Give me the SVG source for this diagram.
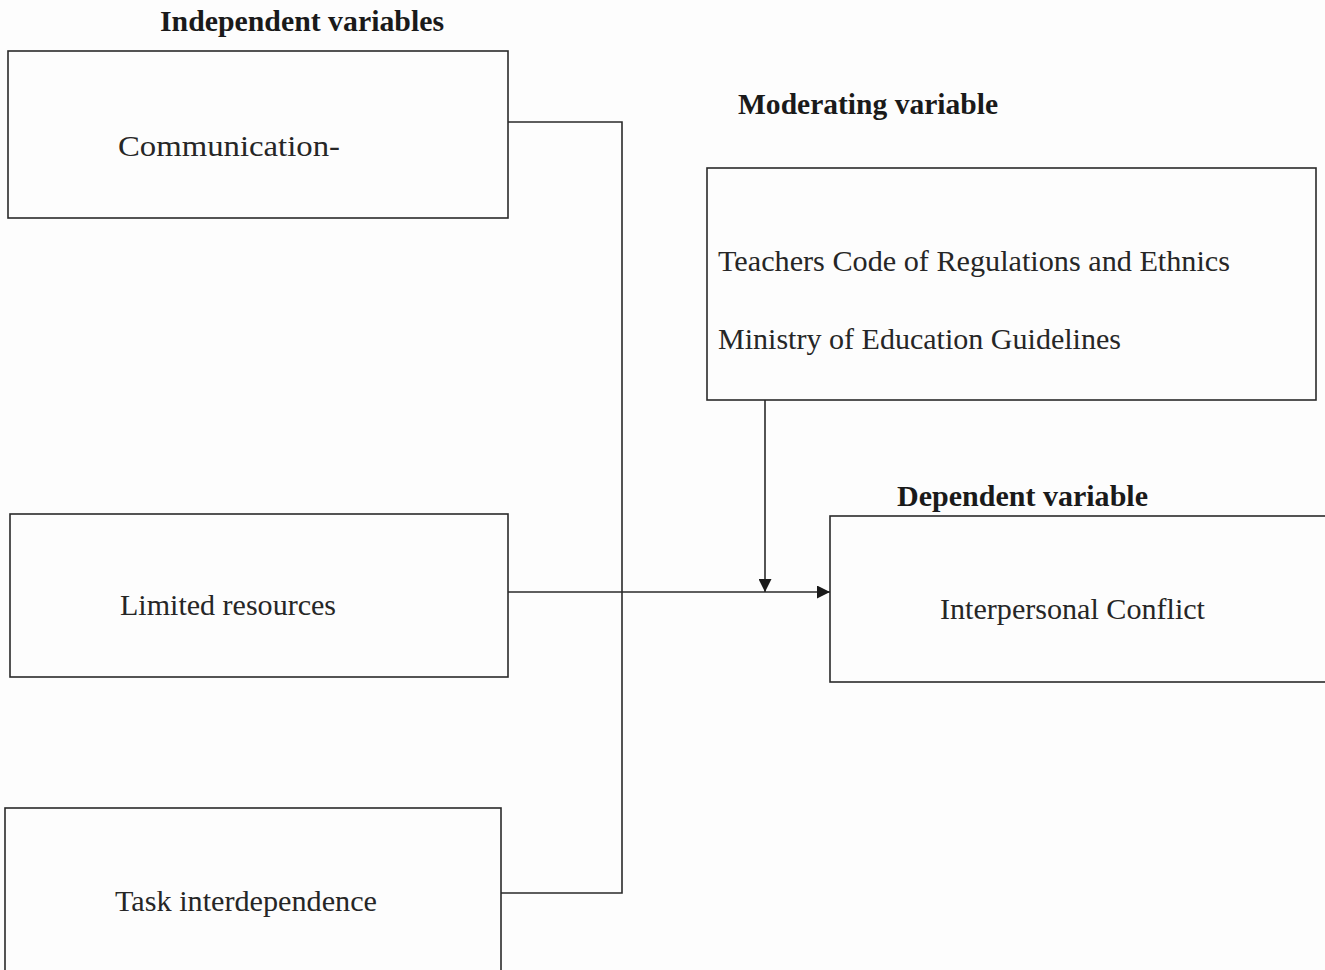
<svg xmlns="http://www.w3.org/2000/svg" width="1325" height="970" viewBox="0 0 1325 970">
<style>
.box{fill:none;stroke:#2a2a2a;stroke-width:1.6}
.lbl{font-family:"Liberation Serif","Times New Roman",serif;font-size:30px;fill:#262626}
.hdr{font-family:"Liberation Serif","Times New Roman",serif;font-size:29px;font-weight:bold;fill:#1a1a1a}
.con{fill:none;stroke:#2a2a2a;stroke-width:1.6}
</style>
<defs>
<marker id="arr" viewBox="0 0 10 10" refX="10" refY="5" markerWidth="13" markerHeight="13" markerUnits="userSpaceOnUse" orient="auto">
<path d="M0,0 L10,5 L0,10 z" fill="#1a1a1a"/>
</marker>
</defs>
<rect width="1325" height="970" fill="#fdfdfd"/>
<g id="headers">
<text class="hdr" x="160" y="31" textLength="284" lengthAdjust="spacingAndGlyphs">Independent variables</text>
<text class="hdr" x="738" y="114" textLength="260" lengthAdjust="spacingAndGlyphs">Moderating variable</text>
<text class="hdr" x="897" y="506" textLength="251" lengthAdjust="spacingAndGlyphs">Dependent variable</text>
</g>
<g id="communication">
<rect class="box" x="8" y="51" width="500" height="167"/>
<text class="lbl" x="118" y="156" textLength="222" lengthAdjust="spacingAndGlyphs">Communication-</text>
</g>
<g id="limited-resources">
<rect class="box" x="10" y="514" width="498" height="163"/>
<text class="lbl" x="120" y="615" textLength="216" lengthAdjust="spacingAndGlyphs">Limited resources</text>
</g>
<g id="task-interdependence">
<rect class="box" x="5" y="808" width="496" height="170"/>
<text class="lbl" x="115" y="911" textLength="262" lengthAdjust="spacingAndGlyphs">Task interdependence</text>
</g>
<g id="moderating">
<rect class="box" x="707" y="168" width="609" height="232"/>
<text class="lbl" x="718" y="271" textLength="512" lengthAdjust="spacingAndGlyphs">Teachers Code of Regulations and Ethnics</text>
<text class="lbl" x="718" y="349" textLength="403" lengthAdjust="spacingAndGlyphs">Ministry of Education Guidelines</text>
</g>
<g id="interpersonal-conflict">
<rect class="box" x="830" y="516" width="510" height="166"/>
<text class="lbl" x="940" y="619" textLength="265" lengthAdjust="spacingAndGlyphs">Interpersonal Conflict</text>
</g>
<g id="connectors">
<path class="con" d="M508,122 H622 V893 H501"/>
<path class="con" d="M508,592 H830" marker-end="url(#arr)"/>
<path class="con" d="M765,400 V592" marker-end="url(#arr)"/>
</g>
</svg>
